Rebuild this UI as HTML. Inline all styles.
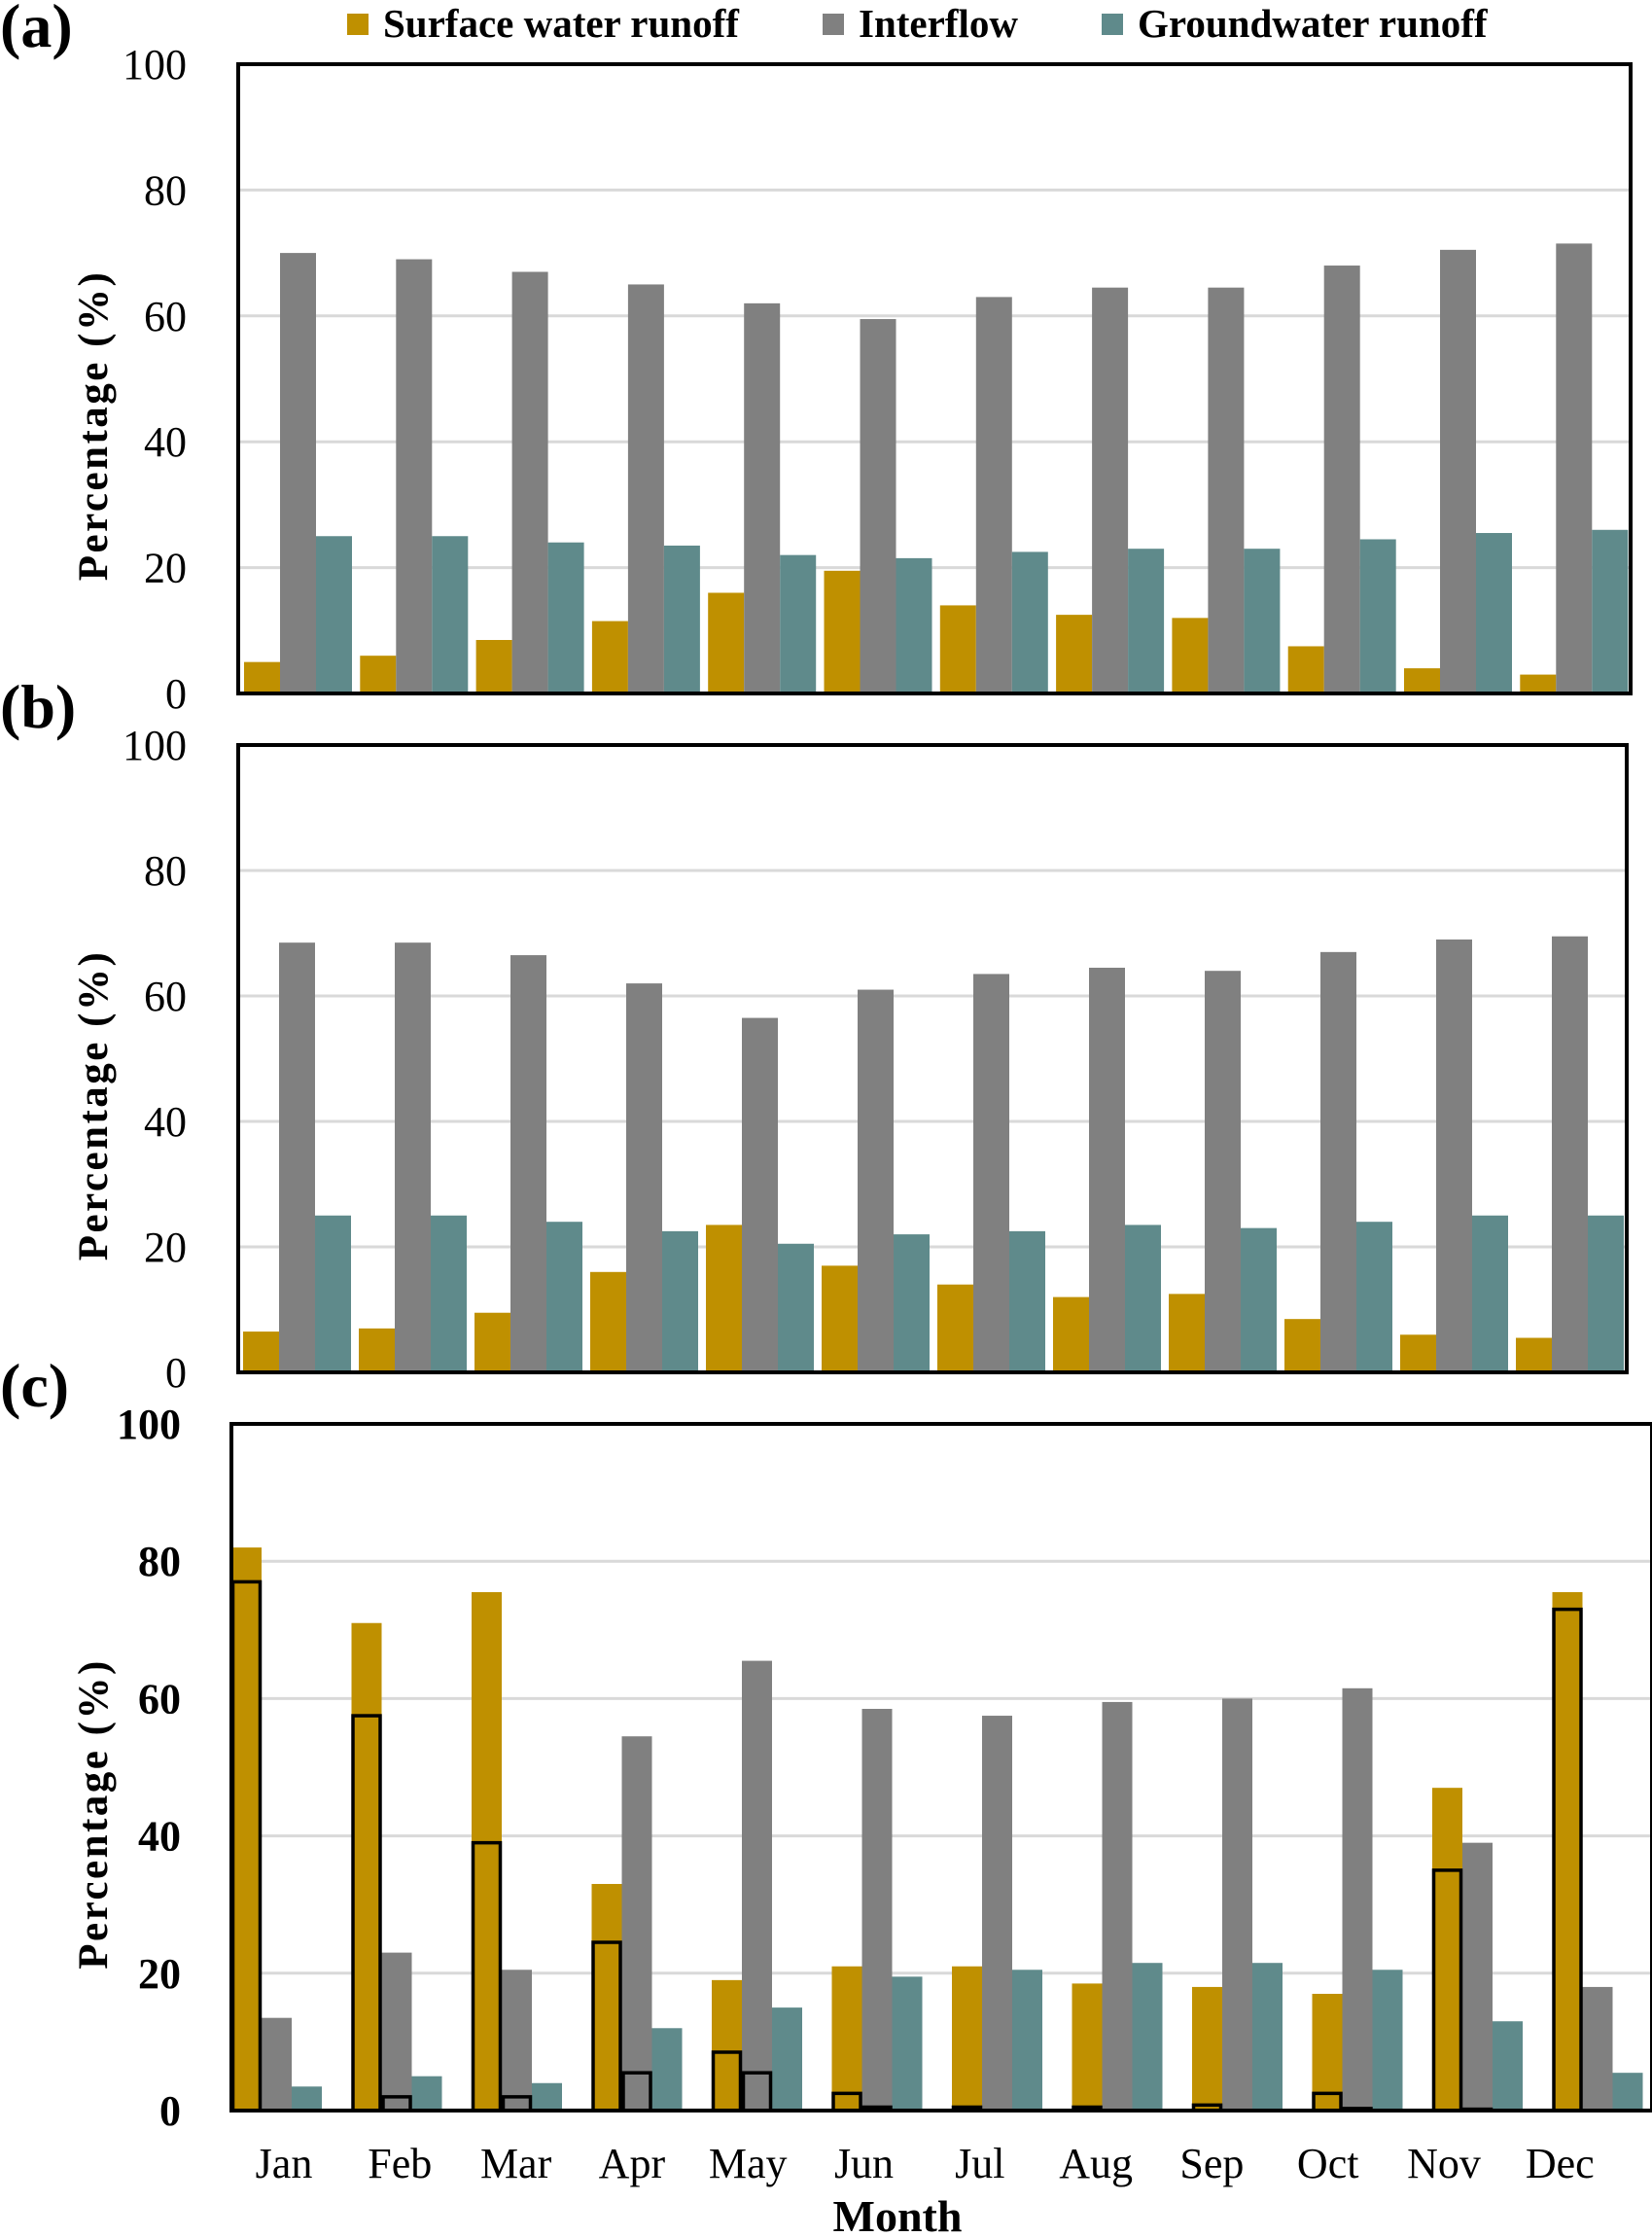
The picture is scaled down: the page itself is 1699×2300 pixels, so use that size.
<!DOCTYPE html>
<html><head><meta charset="utf-8"><style>
html,body{margin:0;padding:0;background:#fff;}
svg{display:block;font-family:"Liberation Serif",serif;}
</style></head><body>
<svg id="fig" width="1699" height="2300" viewBox="0 0 1699 2300"></svg>
<script>
const months=["Jan","Feb","Mar","Apr","May","Jun","Jul","Aug","Sep","Oct","Nov","Dec"];
const ticks=[0,20,40,60,80,100];
const aSurface=[5,6,8.5,11.5,16,19.5,14,12.5,12,7.5,4,3];
const aInter=[70,69,67,65,62,59.5,63,64.5,64.5,68,70.5,71.5];
const aGround=[25,25,24,23.5,22,21.5,22.5,23,23,24.5,25.5,26];
const bSurface=[6.5,7,9.5,16,23.5,17,14,12,12.5,8.5,6,5.5];
const bInter=[68.5,68.5,66.5,62,56.5,61,63.5,64.5,64,67,69,69.5];
const bGround=[25,25,24,22.5,20.5,22,22.5,23.5,23,24,25,25];
const cSurface=[82,71,75.5,33,19,21,21,18.5,18,17,47,75.5];
const cInter=[13.5,23,20.5,54.5,65.5,58.5,57.5,59.5,60,61.5,39,18];
const cGround=[3.5,5,4,12,15,19.5,20.5,21.5,21.5,20.5,13,5.5];
const cSurfaceOutline=[77,57.5,39,24.5,8.5,2.5,0.5,0.5,0.8,2.5,35,73];
const cInterOutline=[0,2,2,5.5,5.5,0.5,0,0,0,0.3,0.2,0];
const COLORS=["#BF9000","#808080","#5F8A8B"];
const NS="http://www.w3.org/2000/svg";
const svg=document.getElementById("fig");
function mk(tag,attrs,parent,text){const e=document.createElementNS(NS,tag);for(const k in attrs)e.setAttribute(k,attrs[k]);if(text!==undefined)e.textContent=text;(parent||svg).appendChild(e);return e;}

function panel(cfg){
  const g=mk("g",{});
  
  
  const y=v=>cfg.bottom-(v/100)*(cfg.bottom-cfg.top);
  ticks.forEach(t=>{
    if(t>0&&t<100){const gl=mk("line",{x1:cfg.left,x2:cfg.right,y1:y(t),y2:y(t),stroke:"#d9d9d9","stroke-width":3},g);
      
      }
    const tl=mk("text",{x:cfg.tickX,y:y(t)+15,"text-anchor":"end","font-size":44,"font-weight":cfg.boldTicks?"bold":"normal"},g,String(t));
    
    
  });
  const series=[cfg.s,cfg.i,cfg.g];
  months.forEach((m,k)=>{
    const gx=cfg.gStart+k*cfg.step;
    series.forEach((arr,si)=>{
      const x=gx+si*cfg.bw;
      const r=mk("rect",{x:x,y:y(arr[k]),width:cfg.bw,height:y(0)-y(arr[k]),fill:COLORS[si]},g);
      
      
    });
    if(cfg.so){
      [cfg.so,cfg.io].forEach((arr,si)=>{
        if(arr[k]<=0)return;
        const x=gx+si*cfg.bw;
        const r=mk("rect",{x:x+1.5,y:y(arr[k]),width:cfg.bw-3,height:y(0)-y(arr[k]),fill:COLORS[si],stroke:"#000","stroke-width":3.5},g);
        
        
      });
    }
  });
  const fr=mk("rect",{x:cfg.left,y:cfg.top,width:cfg.right-cfg.left,height:cfg.bottom-cfg.top,fill:"none",stroke:"#000","stroke-width":4},g);
  
  
  const cy=(cfg.top+cfg.bottom)/2+48;
  const yt=mk("text",{x:0,y:0,transform:"translate(110,"+cy+") rotate(-90)","text-anchor":"middle","font-size":43,"font-weight":"bold","letter-spacing":2.5},g,"Percentage (%)");
  
  
  const pl=mk("text",{x:0,y:cfg.top-18,"font-size":64,"font-weight":"bold"},g,cfg.label);
  
  
}

panel({name:"panel-a",label:"(a)",left:245,right:1677,top:66,bottom:713,tickX:192,boldTicks:false,gStart:251,step:119.3,bw:37,s:aSurface,i:aInter,g:aGround});
panel({name:"panel-b",label:"(b)",left:245,right:1673,top:766,bottom:1411,tickX:192,boldTicks:false,gStart:250,step:119,bw:37,s:bSurface,i:bInter,g:bGround});
panel({name:"panel-c",label:"(c)",left:238,right:1699,top:1464,bottom:2170,tickX:186,boldTicks:true,gStart:238,step:123.5,bw:31,s:cSurface,i:cInter,g:cGround,so:cSurfaceOutline,io:cInterOutline});

months.forEach((m,k)=>{
  const t=mk("text",{x:292+k*119.3,y:2239,"text-anchor":"middle","font-size":44},svg,m);
  
  
});
const xt=mk("text",{x:923,y:2294,"text-anchor":"middle","font-size":46,"font-weight":"bold"},svg,"Month");



const legendNames=["Surface water runoff","Interflow","Groundwater runoff"];
const legendX=[357,846,1133];
legendNames.forEach((n,i)=>{
  const lg=mk("g",{});
  
  
  mk("rect",{x:legendX[i],y:14,width:22,height:22,fill:COLORS[i]},lg);
  mk("text",{x:legendX[i]+37,y:38,"font-size":41,"font-weight":"bold"},lg,n);
});
</script>
</body></html>
